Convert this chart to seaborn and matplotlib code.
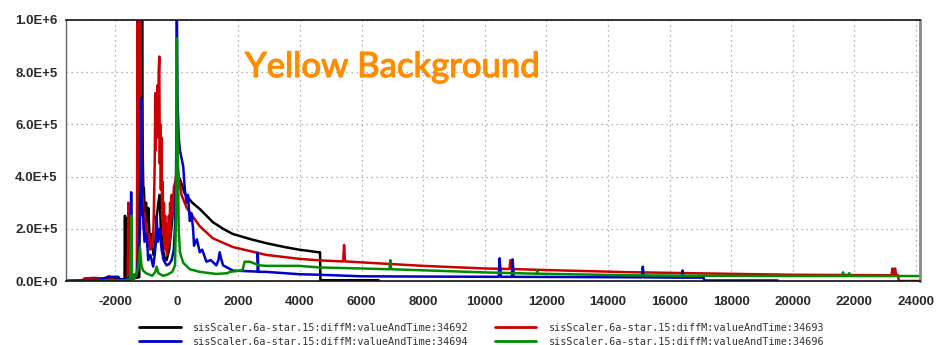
import matplotlib
matplotlib.use("Agg")
import matplotlib.pyplot as plt
from matplotlib.lines import Line2D
from matplotlib.ticker import MultipleLocator
import matplotlib.patheffects as pe
import seaborn as sns
import pandas as pd

# ---------------- data ----------------
series_names = [
    "sisScaler.6a-star.15:diffM:valueAndTime:34692",
    "sisScaler.6a-star.15:diffM:valueAndTime:34693",
    "sisScaler.6a-star.15:diffM:valueAndTime:34694",
    "sisScaler.6a-star.15:diffM:valueAndTime:34696",
]
series_colors = ["#000000", "#cc0000", "#0000c8", "#008c00"]

black_pts = [(-3600, 0), (-2800, 3000), (-2300, 12000), (-2200, 18000), (-2100, 8000),
             (-1800, 5000), (-1700, 6000), (-1685, 250000), (-1670, 20000), (-1650, 240000),
             (-1630, 8000), (-1400, 10000), (-1220, 15000), (-1200, 1000000), (-1185, 300000),
             (-1170, 1000000), (-1150, 400000), (-1130, 1000000), (-1110, 500000), (-1090, 350000),
             (-1070, 356000), (-1040, 250000), (-1000, 300000), (-960, 200000), (-927, 280000),
             (-880, 150000), (-817, 180000), (-760, 100000), (-700, 150000), (-650, 250000),
             (-600, 300000), (-560, 330000), (-520, 200000), (-450, 120000), (-400, 90000),
             (-333, 80000), (-250, 120000), (-180, 200000), (-120, 280000), (-60, 330000),
             (-20, 380000), (0, 400000), (40, 400000), (100, 390000), (258, 335000),
             (500, 300000), (743, 276000), (1163, 226000), (1500, 200000), (1820, 180000),
             (2400, 160000), (2900, 145000), (3500, 130000), (3970, 120000), (4620, 110000),
             (4650, 110000), (4660, 3000), (6550, 3000)]

red_pts = [(-3600, 0), (-3100, 0), (-3000, 10000), (-2700, 12000), (-2400, 10000),
           (-2160, 8000), (-2000, 3000), (-1700, 3000), (-1600, 5000), (-1575, 300000),
           (-1560, 20000), (-1540, 280000), (-1520, 10000), (-1400, 10000), (-1300, 20000),
           (-1275, 1000000), (-1262, 500000), (-1250, 1000000), (-1235, 400000), (-1220, 1000000),
           (-1205, 350000), (-1190, 1000000), (-1170, 300000), (-1150, 700000), (-1120, 250000),
           (-1100, 320000), (-1070, 200000), (-1040, 260000), (-1010, 160000), (-980, 220000),
           (-950, 130000), (-900, 180000), (-860, 120000), (-817, 150000), (-780, 130000),
           (-750, 250000), (-720, 450000), (-700, 720000), (-685, 500000), (-670, 680000),
           (-650, 600000), (-630, 750000), (-610, 550000), (-590, 800000), (-570, 860000),
           (-555, 450000), (-540, 600000), (-520, 350000), (-500, 550000), (-480, 250000),
           (-460, 380000), (-440, 180000), (-420, 300000), (-400, 140000), (-380, 250000),
           (-360, 120000), (-340, 220000), (-320, 100000), (-300, 200000), (-280, 130000),
           (-260, 250000), (-240, 150000), (-220, 300000), (-200, 200000), (-170, 330000),
           (-140, 250000), (-97, 360000), (-50, 380000), (-10, 420000), (20, 450000),
           (60, 400000), (150, 330000), (320, 280000), (500, 250000), (743, 210000),
           (1163, 164000), (1820, 130000), (2900, 100000), (3970, 85000), (4620, 79000),
           (5400, 75000), (5430, 138000), (5460, 75000), (7990, 58000), (10000, 48000),
           (10800, 46000), (10830, 80000), (10860, 46000), (11960, 42000), (14600, 34000),
           (17125, 29000), (19900, 24000), (23200, 22000), (23240, 48000), (23280, 22000),
           (23320, 48000), (23360, 22000), (23420, 22000), (23440, 0), (24130, 0)]

blue_pts = [(-3600, 0), (-3000, 3000), (-2500, 5000), (-2160, 16000), (-1900, 16000),
            (-1840, 5000), (-1600, 8000), (-1500, 20000), (-1485, 340000), (-1470, 30000),
            (-1400, 20000), (-1300, 30000), (-1250, 100000), (-1200, 200000), (-1160, 700000),
            (-1140, 300000), (-1100, 250000), (-1050, 150000), (-980, 180000), (-930, 80000),
            (-860, 100000), (-770, 55000), (-720, 100000), (-680, 150000), (-657, 250000),
            (-620, 150000), (-560, 200000), (-495, 120000), (-430, 80000), (-333, 60000),
            (-250, 65000), (-170, 80000), (-100, 120000), (-65, 200000), (-30, 350000),
            (-10, 700000), (0, 1000000), (20, 700000), (60, 550000), (100, 500000),
            (205, 440000), (260, 350000), (313, 300000), (360, 330000), (420, 230000),
            (470, 260000), (527, 200000), (557, 135000), (650, 160000), (743, 110000),
            (820, 120000), (960, 74000), (1100, 80000), (1280, 60000), (1350, 80000),
            (1390, 110000), (1450, 80000), (1500, 60000), (1820, 40000), (2400, 37000),
            (2620, 36000), (2625, 108000), (2650, 35000), (2900, 35000), (3970, 26000),
            (4620, 24000), (6000, 18000), (8000, 17000), (10450, 16000), (10480, 87000),
            (10520, 16000), (10880, 16000), (10900, 83000), (10940, 16000), (15100, 14000),
            (15130, 55000), (15160, 14000), (16400, 13000), (16420, 40000), (16440, 13000),
            (17100, 13000), (17130, 2000), (19510, 2000)]

green_pts = [(-3600, 0), (-1700, 2000), (-1600, 5000), (-1520, 5000), (-1480, 250000),
             (-1460, 30000), (-1400, 10000), (-1300, 30000), (-1250, 60000), (-1200, 130000),
             (-1150, 60000), (-1100, 40000), (-1000, 30000), (-800, 20000), (-700, 35000),
             (-657, 55000), (-600, 30000), (-450, 20000), (-300, 25000), (-150, 35000),
             (-60, 60000), (-20, 300000), (0, 930000), (20, 600000), (60, 200000),
             (100, 110000), (205, 70000), (420, 45000), (743, 35000), (1280, 27000),
             (1650, 30000), (1710, 35000), (2100, 40000), (2140, 45000), (2200, 74000),
             (2360, 74000), (2680, 60000), (2900, 58000), (3970, 58000), (4620, 52000),
             (6000, 48000), (6900, 45000), (6930, 80000), (6960, 45000), (7990, 41000),
             (9970, 33000), (11680, 28000), (11700, 40000), (11720, 28000), (14600, 22000),
             (17125, 20000), (20000, 19000), (21600, 19000), (21630, 33000), (21660, 19000),
             (21800, 19000), (21830, 30000), (21860, 19000), (24130, 19000)]

xtick_values = [-2000, 0, 2000, 4000, 6000, 8000, 10000, 12000, 14000, 16000,
                18000, 20000, 22000, 24000]
xtick_labels = ["-2000", "0", "2000", "4000", "6000", "8000", "10000", "12000",
                "14000", "16000", "18000", "20000", "22000", "24000"]
ytick_values = [0, 200000, 400000, 600000, 800000, 1000000]
ytick_labels = ["0.0E+0", "2.0E+5", "4.0E+5", "6.0E+5", "8.0E+5", "1.0E+6"]
overlay_text = "Yellow Background"

# ---------------- build table ----------------
rows = []
for name, pts in zip(series_names, [black_pts, red_pts, blue_pts, green_pts]):
    for i, (x, y) in enumerate(pts):
        rows.append({"series": name, "order": i, "time": x, "value": y})
df = pd.DataFrame(rows)

sns.set_style("white")
plt.rcParams["font.family"] = ["Liberation Sans", "DejaVu Sans"]

fig = plt.figure(figsize=(9.41, 3.45), dpi=100)
ax = fig.add_axes([66 / 941, 1 - 281 / 345, (920 - 66) / 941, (281 - 20) / 345])

palette = dict(zip(series_names, series_colors))
sns.lineplot(data=df, x="time", y="value", hue="series", hue_order=series_names,
             palette=palette, sort=False, estimator=None, linewidth=1.8,
             legend=False, ax=ax)

ax.set_xlim(-3600, 24130)
ax.set_ylim(0, 1000000)
ax.set_xlabel("")
ax.set_ylabel("")

ax.set_xticks(xtick_values)
ax.set_xticklabels(xtick_labels)
ax.set_yticks(ytick_values)
ax.set_yticklabels(ytick_labels)
ax.xaxis.set_minor_locator(MultipleLocator(1000))
ax.yaxis.set_minor_locator(MultipleLocator(100000))

ax.grid(True, which="major", linestyle=(0, (1, 3)), color="#9a9a9a", linewidth=0.9)
ax.tick_params(axis="both", which="major", direction="inout", length=6, width=0.8,
               color="#555555", labelsize=9.5, labelcolor="#2a2a2a", pad=3)
ax.tick_params(axis="both", which="minor", direction="inout", length=5, width=0.8,
               color="#555555")
ax.tick_params(axis="x", which="major", pad=8)
for lab in ax.get_xticklabels() + ax.get_yticklabels():
    lab.set_fontweight("bold")

for side in ["top", "bottom"]:
    ax.spines[side].set_color("#111111")
    ax.spines[side].set_linewidth(1.2)
ax.spines["left"].set_color("#666666")
ax.spines["left"].set_linewidth(1.0)
ax.spines["right"].set_color("#888888")
ax.spines["right"].set_linewidth(2.0)
for s in ax.spines.values():
    s.set_visible(True)

fig.text(245 / 941, 1 - 77 / 345, overlay_text, family=["Lato", "DejaVu Sans"],
         fontsize=25, color="#ff8c00", va="baseline", ha="left",
         path_effects=[pe.withStroke(linewidth=0.9, foreground="#ff8c00")])

# legend: two columns, filled column-wise
legend_order = [0, 2, 1, 3]
handles = [Line2D([], [], color=series_colors[i], linewidth=2) for i in legend_order]
labels = [series_names[i] for i in legend_order]
fig.legend(handles, labels, loc="upper left", bbox_to_anchor=(139 / 941, 1 - 323 / 345),
           ncol=2, frameon=False, prop={"family": "DejaVu Sans Mono", "size": 7.3},
           handlelength=4.1, handletextpad=1.2, columnspacing=2.6, labelspacing=0.35,
           borderpad=0, borderaxespad=0, labelcolor="#333333")

fig.savefig("out.png", dpi=100)
